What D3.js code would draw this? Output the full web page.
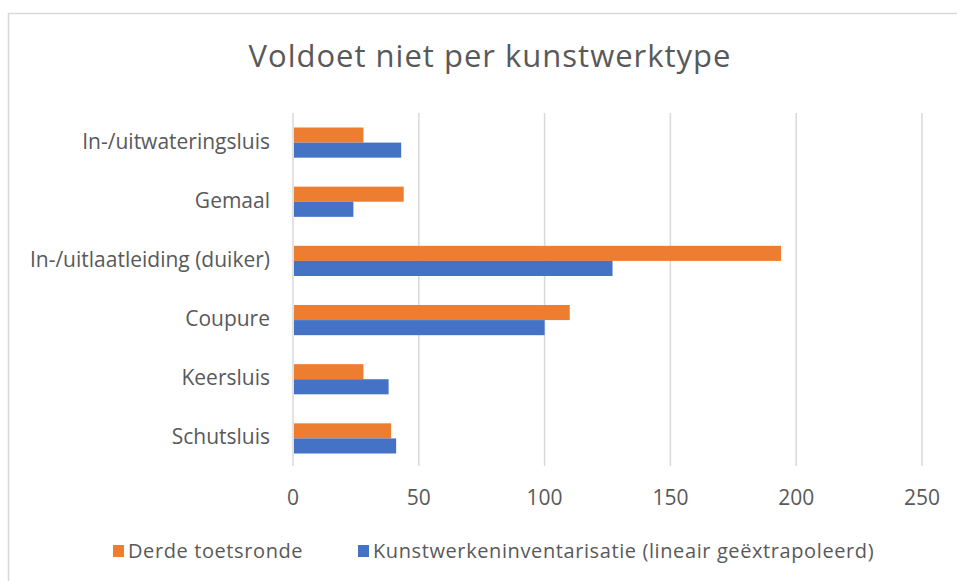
<!DOCTYPE html>
<html>
<head>
<meta charset="utf-8">
<script src="https://cdn.jsdelivr.net/npm/d3@7"></script>
<style>
  body { margin: 0; background: #fff; }
  text { font-family: "Segoe UI", "Open Sans", sans-serif; fill: #595959; }
</style>
</head>
<body>
<div id="chart"></div>
<script>
// Data
var categories = ["In-/uitwateringsluis", "Gemaal", "In-/uitlaatleiding (duiker)", "Coupure", "Keersluis", "Schutsluis"];
var seriesNames = ["Derde toetsronde", "Kunstwerkeninventarisatie (lineair geëxtrapoleerd)"];
var derdeToetsronde = [28, 44, 194, 110, 28, 39];
var inventarisatie = [43, 24, 127, 100, 38, 41];
var xTicks = [0, 50, 100, 150, 200, 250];
var colors = ["#ED7D31", "#4472C4"];

var width = 957;
var height = 581;
var margin = { top: 113, left: 293 };

var svg = d3.select("#chart")
    .append("svg")
    .attr("width", width)
    .attr("height", height);

// chart frame
svg.append("rect")
    .attr("x", 8.5)
    .attr("y", 13.5)
    .attr("width", 960)
    .attr("height", 600)
    .attr("fill", "#fff")
    .attr("stroke", "#d9d9d9")
    .attr("stroke-width", 1.5);

var x = d3.scaleLinear()
    .domain([0, 250])
    .range([margin.left, 922]);

var y = d3.scaleBand()
    .domain(categories)
    .range([margin.top, 468])
    .paddingInner(0.49)
    .paddingOuter(0.245);

var ySub = d3.scaleBand()
    .domain([0, 1])
    .range([0, y.bandwidth()]);

// gridlines
svg.append("g")
    .selectAll("line")
    .data(xTicks)
    .enter()
    .append("line")
    .attr("x1", function(d) { return x(d); })
    .attr("x2", function(d) { return x(d); })
    .attr("y1", margin.top)
    .attr("y2", 466)
    .attr("stroke", "#d9d9d9")
    .attr("stroke-width", 1.5);

// bars
var rows = categories.map(function(c, i) {
    return { cat: c, values: [derdeToetsronde[i], inventarisatie[i]] };
});

var groups = svg.append("g")
    .selectAll("g")
    .data(rows)
    .enter()
    .append("g")
    .attr("transform", function(d) { return "translate(0," + y(d.cat) + ")"; });

groups.selectAll("rect")
    .data(function(d) { return d.values; })
    .enter()
    .append("rect")
    .attr("x", x(0) + 1)
    .attr("y", function(d, i) { return ySub(i); })
    .attr("width", function(d) { return x(d) - x(0) - 1; })
    .attr("height", ySub.bandwidth())
    .attr("fill", function(d, i) { return colors[i]; });

// x axis labels
svg.append("g")
    .selectAll("text")
    .data(xTicks)
    .enter()
    .append("text")
    .attr("x", function(d) { return x(d); })
    .attr("y", 505)
    .attr("text-anchor", "middle")
    .style("font-size", "21px")
    .text(function(d) { return d; });

// category labels
svg.append("g")
    .selectAll("text")
    .data(categories)
    .enter()
    .append("text")
    .attr("x", 270)
    .attr("y", function(d) { return y(d) + y.bandwidth() / 2 + 6; })
    .attr("text-anchor", "end")
    .style("font-size", "21px")
    .text(function(d) { return d; });

// title
svg.append("text")
    .attr("x", 490)
    .attr("y", 67)
    .attr("text-anchor", "middle")
    .style("font-size", "31px")
    .style("letter-spacing", "1px")
    .text("Voldoet niet per kunstwerktype");

// legend
var legendX = [113, 358];
var legend = svg.append("g")
    .selectAll("g")
    .data(seriesNames)
    .enter()
    .append("g")
    .attr("transform", function(d, i) { return "translate(" + legendX[i] + ",0)"; });

legend.append("rect")
    .attr("x", 0)
    .attr("y", 545)
    .attr("width", 11)
    .attr("height", 12)
    .attr("fill", function(d, i) { return colors[i]; });

legend.append("text")
    .attr("x", 15)
    .attr("y", 558)
    .style("font-size", "20px")
    .style("letter-spacing", "0.6px")
    .text(function(d) { return d; });
</script>
</body>
</html>
